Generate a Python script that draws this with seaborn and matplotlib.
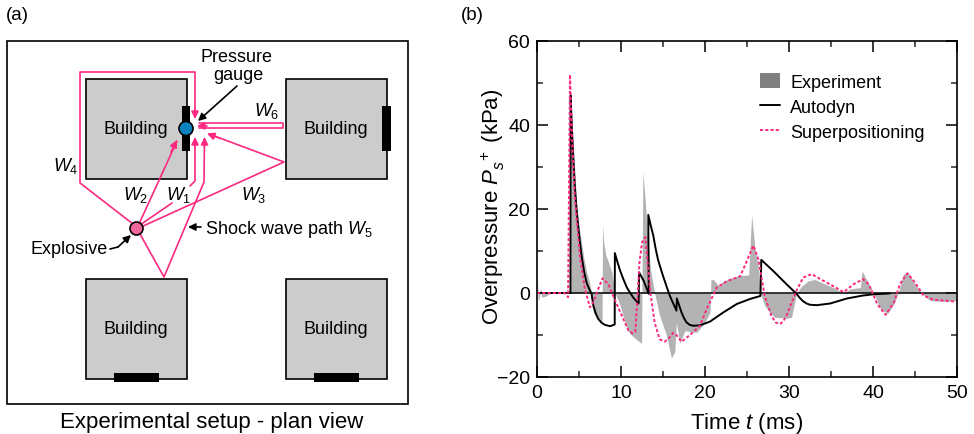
import matplotlib
matplotlib.use("Agg")
import matplotlib.pyplot as plt
import pandas as pd
import seaborn as sns
from matplotlib.lines import Line2D
from matplotlib.patches import Circle, Patch, Rectangle
from matplotlib.ticker import MultipleLocator

sns.set_theme(style="ticks")
plt.rcParams['font.family'] = ['Liberation Sans', 'DejaVu Sans']
plt.rcParams['mathtext.fontset'] = 'custom'
plt.rcParams['mathtext.rm'] = 'Liberation Sans'
plt.rcParams['mathtext.it'] = 'Liberation Sans:italic'
plt.rcParams['text.color'] = 'black'
plt.rcParams['axes.labelcolor'] = 'black'

PINK = "#fb2a80"

### (b) curves
exp_t = [0, 0.05, 0.15, 0.3, 0.45, 0.55, 1.0, 1.5, 2, 3.95, 4.0, 4.3, 4.7, 5.0, 5.3, 5.6, 5.9, 6.2, 6.5, 6.7, 7.3, 7.75,
         7.8, 7.95, 8.2, 8.6, 8.9, 9.3, 9.9, 10.7, 11.1, 11.8, 12.45, 12.6, 12.9, 13.1, 13.5, 14, 14.6, 15.4, 16, 16.4, 16.6,
         17, 17.6, 19, 20, 20.6, 20.7, 21, 21.6, 22.2, 23, 24, 25.2, 25.55, 25.95, 26.35, 26.6, 27.1, 27.7,
         28.3, 29.7, 30.3, 30.9, 31.5, 32.3, 33.1, 34.1, 35.3, 36.5, 37.3, 38.5, 38.7, 39.3, 40.1, 40.8,
         41.7, 42.5, 43, 43.6, 44.2, 45, 45.8, 46.8, 48.4, 50]
exp_p = [0, 4, -2, -1, 1.5, -1, -0.8, -0.2, 0, 0, 47, 36.7, 21.6, 16, 12, 8, 5, 3, 0, -4.6, -6.2, -6.8,
         16.3, 12, 9, 6.8, 5, 0, -3, -8.6, -9.8, -11, -12, 28.9, 21.6, 15, 5.7, 0, -5.4, -10, -15.5, -14, -7,
         -12, -9, -9.4, -7, -4.6, 3.2, 3.2, 1.7, 2.8, 3.5, 4.1, 4.3, 18.6, 10.5, 6.5, 0, -3, -4.6,
         -5.8, -6, -5.8, 0, 1.6, 2.9, 3.2, 2.3, 1.3, 0, 1, 1.3, 5.3, 2.9, 0, -3.4,
         -5, -2.6, 0, 4.5, 4.8, 2.1, 0, -1.8, -2, -1.8]

auto_t = [0, 3.98, 4.0, 4.15, 4.3, 4.5, 4.7, 5.0, 5.3, 5.6, 5.9, 6.2, 6.5, 6.7, 7.0, 7.3, 7.7, 8.1, 8.7, 9.25,
          9.27, 9.6, 9.9, 10.3, 10.7, 11.1, 11.5, 12.1, 12.15, 12.7, 13.3, 13.25, 13.5, 13.85, 14.1, 14.4, 14.7,
          15, 15.4, 15.8, 16.2, 16.6, 16.65, 17.2, 17.5, 17.8, 18.2, 18.6, 19.4, 20.6, 22.2,
          23.8, 25.4, 26.6, 26.7, 28.2, 29.7, 30.9, 31.3, 31.7, 32.1, 32.5, 33.3, 34.9, 36.9, 38.8, 40.1, 42]
auto_p = [0, 0, 47, 39, 32.7, 25.5, 20, 14, 8.9, 5.2, 2.5, 1, -0.2, -3, -4.9, -6.2, -7.1, -7.6, -7.9, -7.5,
          9.5, 7.2, 5.3, 3.2, 1.3, 0, -1.2, -2.5, 4.9, 2.9, -0.2, 18.6, 16.4, 13.6, 10.8, 8, 6,
          4.1, 1.7, -0.6, -2.4, -4.2, -1.3, -4.6, -6, -7, -7.6, -7.8, -7.7, -6.8, -4.6,
          -2.6, -1.4, -0.7, 7.9, 5.1, 2.1, -0.2, -1.2, -2, -2.5, -2.8, -2.9, -2.5, -1.3, -0.6, -0.3, -0.1]

sup_t = [0, 3.3, 3.7, 3.93, 4.13, 4.5, 5.1, 5.7, 6.3, 6.7, 7.3, 7.8, 8.5, 9.3, 10.1, 10.9, 11.4, 11.7, 11.9,
         12.2, 12.5, 12.9, 13.1, 13.5, 14, 14.6, 15.2, 15.7, 16.2, 16.6, 17.2, 18.2, 19.4, 20.2, 21.4, 22.6,
         24.2, 25, 25.75, 26.35, 27.1, 27.9, 28.4, 28.9, 29.3, 29.7, 30.9, 31.7, 32.7, 34.1, 35.3, 36.5, 37.7, 38.8,
         39.5, 40.5, 41.5, 42.5, 43.2, 44.1, 45, 46, 47.2, 49.6, 50]
sup_p = [0, 0, -1, 52, 39, 23, 8.9, 1, -3.4, -2.2, 1, 3.5, 2.1, -1.8, -5.4, -9, -9.6, -9.2, -3,
         7.3, 12, 13.3, 8.9, 0, -7, -11, -11.6, -10.8, -9.5, -10, -11.6, -10, -7.8, -3.8, 1.3, 2.8,
         4, 7.7, 11.3, 8.1, -0.6, -5.4, -7, -7.4, -6.8, -5.4, 0.6, 3.7, 4.5, 2.9, 1.6, 0.2, 2.1, 3.3,
         2.1, -2.6, -5.2, -2.2, 2.1, 4.7, 2.5, -0.6, -1.6, -2, -2]

### (a) plan view, in picture pixels
frame = [7, 42, 401, 363]
buildings = [(86, 80), (286, 80), (86, 280), (286, 280)]
bars = [(182, 107, 8, 45), (382, 107, 9, 45), (114, 374, 45, 9), (314, 374, 45, 9)]
explosive = (136.5, 229.5)
gauge = (186, 129.5)
paths = [
    [(133, 225), (80, 184), (80, 73), (195, 73), (195, 118)],  # W4
    [(139, 225), (177, 142)],  # W2
    [(140, 226), (172, 204)],  # W1, lower bit
    [(190, 187), (195, 182), (195, 140)],  # W1, upper bit
    [(141, 228), (284, 163), (209, 135)],  # W3
    [(140, 235), (164, 278), (204, 183), (204.5, 140)],  # W5
    [(199, 124), (283, 124), (283, 129), (199, 129)],  # W6
]
pink_heads = [((195, 110), (195, 120)), ((171, 153), (177, 141)), ((195, 148), (195, 138)),
              ((219, 139), (207, 134.5)), ((204.5, 148), (204.5, 138)), ((207, 127), (197, 127))]
black_arrows = [((237, 87), (198, 122)), ((118, 248), (131, 236)), ((201, 228), (188, 228))]
explosive_tail = [(110, 250), (118, 248)]
labels = [("Building", 136, 130), ("Building", 336, 130), ("Building", 136, 330), ("Building", 336, 330)]
path_labels = [(r"$W_4$", 66, 166), (r"$W_2$", 136, 195), (r"$W_1$", 179, 195), (r"$W_3$", 254, 195),
               (r"$W_6$", 267, 111)]

fig = plt.figure(figsize=(9.74, 4.35), dpi=100)
bg = fig.add_axes([0, 0, 1, 1])
bg.set_xlim(0, 974)
bg.set_ylim(435, 0)
bg.axis("off")

bg.add_patch(Rectangle(frame[:2], frame[2], frame[3], fc="white", ec="black", lw=1.2))
for x, y in buildings:
    bg.add_patch(Rectangle((x, y), 101, 100, fc="#cccccc", ec="black", lw=1.2))
for x, y, w, h in bars:
    bg.add_patch(Rectangle((x, y), w, h, fc="black", ec="none", zorder=3))
for p in paths:
    bg.plot([q[0] for q in p], [q[1] for q in p], color=PINK, lw=1.2, zorder=4)
for start, end in pink_heads:
    bg.annotate("", xy=end, xytext=start, zorder=5,
                arrowprops=dict(arrowstyle="-|>,head_length=0.36,head_width=0.18", color=PINK, lw=1.2,
                                shrinkA=0, shrinkB=0))
bg.plot([q[0] for q in explosive_tail], [q[1] for q in explosive_tail], color="black", lw=1.2)
for start, end in black_arrows:
    bg.annotate("", xy=end, xytext=start, zorder=5,
                arrowprops=dict(arrowstyle="-|>,head_length=0.36,head_width=0.18", color="black", lw=1.2,
                                shrinkA=0, shrinkB=0))
bg.add_patch(Circle(explosive, 6.5, fc="#f2689c", ec="black", lw=1.2, zorder=6))
bg.add_patch(Circle(gauge, 7, fc="#0a82bd", ec="black", lw=1.2, zorder=6))

for s, x, y in labels:
    bg.text(x, y, s, fontsize=13, ha="center", va="center", zorder=7)
for s, x, y in path_labels:
    bg.text(x, y, s, fontsize=13, ha="center", va="center", zorder=7)
bg.text(236, 57, "Pressure", fontsize=13, ha="center", va="center")
bg.text(238, 75, "gauge", fontsize=13, ha="center", va="center")
bg.text(205, 230, r"Shock wave path $W_5$", fontsize=13, ha="left", va="center")
bg.text(31, 250, "Explosive", fontsize=13, ha="left", va="center")
bg.text(212, 423, "Experimental setup - plan view", fontsize=16, ha="center", va="center")
bg.text(6, 15, "(a)", fontsize=13.5, ha="left", va="center")
bg.text(461, 15, "(b)", fontsize=13.5, ha="left", va="center")

### (b) time history
ax = fig.add_axes([537 / 974, (435 - 378) / 435, 420 / 974, 336 / 435])
ax.fill_between(exp_t, exp_p, 0, color="#b3b3b3", lw=0)
ax.axhline(0, color="black", lw=1.1)
sns.lineplot(data=pd.DataFrame({"t": auto_t, "p": auto_p}), x="t", y="p", ax=ax, color="black", lw=1.4,
             estimator=None, sort=False, errorbar=None)
sns.lineplot(data=pd.DataFrame({"t": sup_t, "p": sup_p}), x="t", y="p", ax=ax, color=PINK, lw=1.4,
             estimator=None, sort=False, errorbar=None, linestyle=(0, (1.6, 1.1)))
ax.set_xlim(0, 50)
ax.set_ylim(-20, 60)
ax.xaxis.set_major_locator(MultipleLocator(10))
ax.xaxis.set_minor_locator(MultipleLocator(5))
ax.yaxis.set_major_locator(MultipleLocator(20))
ax.yaxis.set_minor_locator(MultipleLocator(10))
ax.tick_params(which="major", direction="in", length=8, width=1.1, top=True, right=True, labelsize=14,
               pad=5, colors="black")
ax.tick_params(which="minor", direction="in", length=4.5, width=1.1, top=True, right=True)
for s in ax.spines.values():
    s.set_linewidth(1.2)
    s.set_color("black")
ax.set_xlabel(r"Time $t$ (ms)", fontsize=16)
ax.set_ylabel(r"Overpressure $P_s^{\ +}$ (kPa)", fontsize=16)
ax.xaxis.set_label_coords(0.5, -0.097)
ax.yaxis.set_label_coords(-0.071, 0.51)

handles = [Patch(fc="#808080", ec="none"),
           Line2D([], [], color="black", lw=1.4),
           Line2D([], [], color=PINK, lw=1.4, linestyle=(0, (1.6, 1.1)))]
ax.legend(handles, ["Experiment", "Autodyn", "Superpositioning"], frameon=False, fontsize=13,
          loc="upper left", bbox_to_anchor=(0.532, 0.905), borderaxespad=0, borderpad=0,
          handlelength=1.1, handleheight=0.9, handletextpad=0.55, labelspacing=0.42)

plt.savefig("out.png", dpi=100)
